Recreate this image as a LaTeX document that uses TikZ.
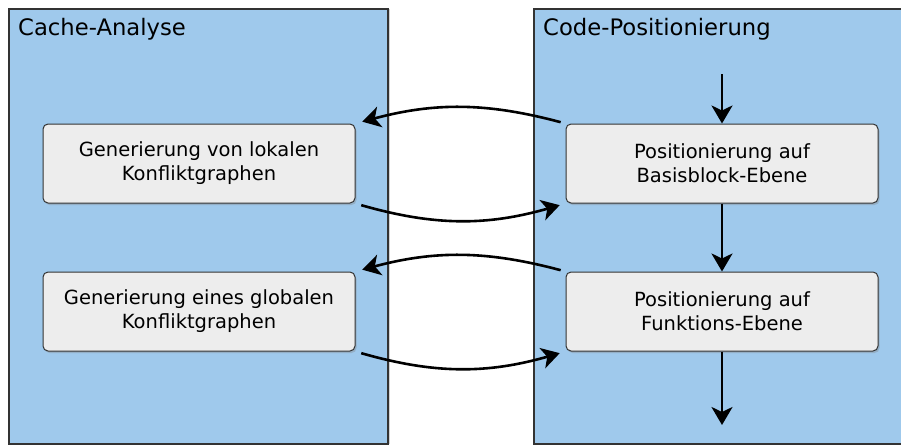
\documentclass[tikz,border=0pt]{standalone}
\usepackage{fontspec}
\setmainfont{DejaVu Sans}
\usetikzlibrary{positioning, shapes, arrows.meta, shadows}

\definecolor{panelblue}{HTML}{9FC9EC}
\definecolor{boxgray}{HTML}{EDEDED}
\definecolor{edgegray}{HTML}{333333}

\begin{document}
\begin{tikzpicture}[
    x=1pt, y=-1pt,
    panel/.style={draw=edgegray, line width=1.5pt, fill=panelblue, anchor=north west,
        drop shadow={shadow xshift=2.5pt, shadow yshift=0pt, opacity=0.35}},
    component/.style={draw=edgegray, line width=1pt, fill=boxgray, rounded corners=5pt,
        minimum width=312pt, minimum height=79pt, align=center, font=\fontsize{19.5}{24}\selectfont,
        drop shadow={shadow xshift=1.5pt, shadow yshift=-2pt, opacity=0.35}},
    title/.style={anchor=base west, inner sep=0pt, font=\fontsize{22.7}{27}\selectfont},
    arrow/.style={-{Stealth[length=18pt, width=21pt, inset=5pt]}, line width=2.6pt}
    ]
    \useasboundingbox (0,0) rectangle (901,445);

    % panels
    \node (cache) [panel, minimum width=379pt, minimum height=435pt] at (8,8) {};
    \node (code) [panel, minimum width=380pt, minimum height=435pt] at (533,8) {};
    \node (cachetitle) [title] at (18,35.5) {Cache-Analyse};
    \node (codetitle) [title] at (543,35.5) {Code-Positionierung};

    % steps
    \node (lokal) [component] at (199,163.5) {Generierung von lokalen\\Konfliktgraphen};
    \node (global) [component, below=68pt of lokal] {Generierung eines globalen\\Konfliktgraphen};
    \node (basis) [component] at (722,163.5) {Positionierung auf\\Basisblock-Ebene};
    \node (funk) [component, below=68pt of basis] {Positionierung auf\\Funktions-Ebene};
    \coordinate (start) at (722,74);
    \coordinate (ende) at (722,425);

    \draw[arrow] (start) -- (basis);
    \draw[arrow] (basis) -- (funk);
    \draw[arrow] (funk) -- (ende);

    \draw[arrow, shorten <=5pt, shorten >=7pt] (basis.north west) to[bend right=15] (lokal.north east);
    \draw[arrow, shorten <=6pt, shorten >=6pt] (lokal.south east) to[bend right=16] (basis.south west);
    \draw[arrow, shorten <=5pt, shorten >=7pt] (funk.north west) to[bend right=15] (global.north east);
    \draw[arrow, shorten <=6pt, shorten >=6pt] (global.south east) to[bend right=16] (funk.south west);
\end{tikzpicture}
\end{document}
